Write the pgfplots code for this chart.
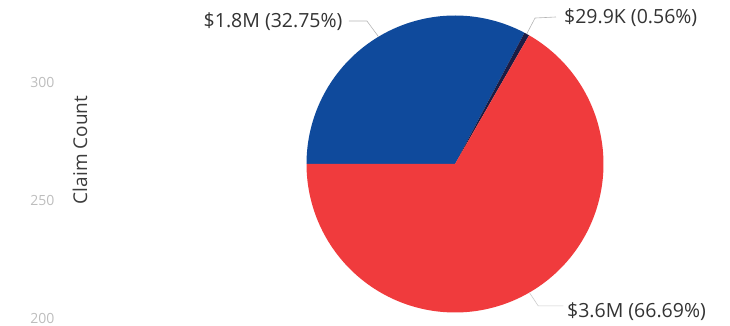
\documentclass[border=0pt]{standalone}
\usepackage{fontspec}
\setmainfont{Open Sans}
\usepackage{pgfplots}
\pgfplotsset{compat=1.18}
\usepackage{pgfplotstable}
\definecolor{pieblue}{HTML}{0F4A9C}
\definecolor{piered}{HTML}{F03B3D}
\definecolor{piedark}{HTML}{1B1D45}
\definecolor{lbl}{HTML}{333333}
\definecolor{ticklbl}{HTML}{BDBDBD}
\definecolor{lead}{HTML}{B5B5B5}
\definecolor{ylbl}{HTML}{3C3C3C}

\pgfplotstableread{
label share
1.8M 32.75
29.9K 0.56
3.6M 66.69
}\piedata
\pgfplotstablegetelem{0}{share}\of\piedata \let\sA\pgfplotsretval
\pgfplotstablegetelem{1}{share}\of\piedata \let\sB\pgfplotsretval
\pgfplotstablegetelem{2}{share}\of\piedata \let\sC\pgfplotsretval
\pgfmathsetmacro\aStart{180}
\pgfmathsetmacro\aOne{180-3.6*\sA}
\pgfmathsetmacro\aTwo{\aOne-3.6*\sB}
\pgfmathsetmacro\aThree{\aTwo-3.6*\sC}

\begin{document}
\begin{tikzpicture}
\useasboundingbox (0,0) rectangle (730pt,326pt);
% left axis remnant
\begin{axis}[at={(58pt,8pt)}, anchor=south west, scale only axis,
  width=40pt, height=236pt, ymin=200, ymax=300, xmin=0, xmax=1,
  hide x axis, y axis line style={draw=none}, major tick length=0pt,
  ytick={200,250,300},
  /pgf/number format/assume math mode=true,
  yticklabel style={text=ticklbl, font=\fontsize{14}{14}\selectfont},
  clip=false]
\addplot[draw=none] coordinates {(0,250)};
\node[rotate=90, text=ylbl, font=\fontsize{19}{19}\selectfont] at (rel axis cs:0.55,0.712) {Claim Count};
\end{axis}
% pie
\begin{axis}[at={(455pt,162pt)}, anchor=center, scale only axis,
  width=297pt, height=297pt, xmin=-1, xmax=1, ymin=-1, ymax=1,
  hide axis, clip=false]
\addplot[draw=none, fill=pieblue, domain=\aOne:\aStart, samples=90, variable=\t]
  ({cos(\t)},{sin(\t)}) -- (axis cs:0,0) -- cycle;
\addplot[draw=none, fill=piedark, domain=\aTwo:\aOne, samples=6, variable=\t]
  ({cos(\t)},{sin(\t)}) -- (axis cs:0,0) -- cycle;
\addplot[draw=none, fill=piered, domain=\aThree:\aTwo, samples=160, variable=\t]
  ({cos(\t)},{sin(\t)}) -- (axis cs:0,0) -- cycle;
% leader lines
\addplot[lead, line width=0.6pt] coordinates {(-0.515,0.857) (-0.593,0.963) (-0.714,0.963)};
\addplot[lead, line width=0.6pt] coordinates {(0.483,0.876) (0.539,0.983) (0.680,0.990)};
\addplot[lead!70, line width=0.6pt] coordinates {(0.501,-0.866) (0.56,-0.955) (0.73,-0.955)};
% labels
\node[anchor=east, text=lbl, font=\fontsize{19.5}{20}\selectfont, inner sep=1pt] at (axis cs:-0.75,0.956) {\$1.8M (32.75\%)};
\node[anchor=west, text=lbl, font=\fontsize{19.5}{20}\selectfont, inner sep=1pt] at (axis cs:0.727,0.983) {\$29.9K (0.56\%)};
\node[anchor=west, text=lbl, font=\fontsize{19.5}{20}\selectfont, inner sep=1pt] at (axis cs:0.747,-0.997) {\$3.6M (66.69\%)};
\end{axis}
\end{tikzpicture}
\end{document}
